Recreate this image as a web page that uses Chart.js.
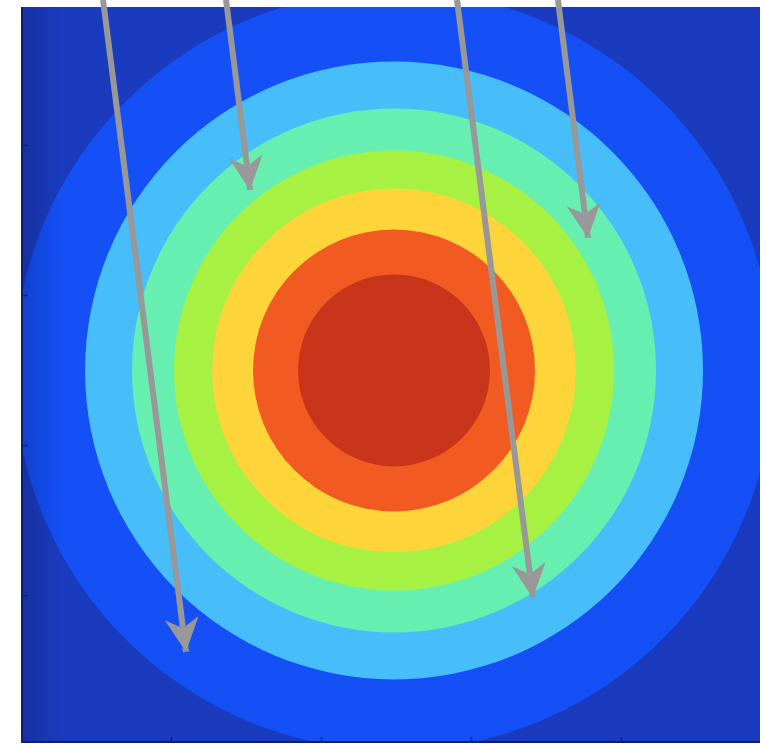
<!DOCTYPE html>
<html>
<head>
<meta charset="utf-8">
<style>
  html, body { margin: 0; padding: 0; background: #ffffff; }
  #wrap { width: 766px; height: 744px; }
</style>
<script src="https://cdn.jsdelivr.net/npm/chart.js@4/dist/chart.umd.min.js"></script>
</head>
<body>
<div id="wrap"><canvas id="chart" width="766" height="744"></canvas></div>
<script>
// Domain of the field
const xRange = [0, 4.927];
const yRange = [0.013, 4.92];
const xTicks = [1, 2, 3, 4];
const yTicks = [1, 2, 3, 4];

// Radial field: centre and contour-level radii (outermost first)
const centerX = 2.487;
const centerY = 2.497;
const contourRadii = [2.533, 2.06, 1.747, 1.467, 1.213, 0.94, 0.64];

// Gradient vectors (start -> tip)
const arrowStartX = [0.547, 1.367, 2.907, 3.58];
const arrowStartY = [4.967, 4.967, 4.967, 4.967];
const arrowEndX   = [1.10, 1.527, 3.413, 3.78];
const arrowEndY   = [0.62, 3.70, 0.98, 3.38];

// Styling
const backgroundLevelColor = '#1a3bbd';
const contourColors = ['#1550f6', '#47bdfa', '#66efb0', '#a7f142', '#fdd53a', '#f15b22', '#c9351b'];
const arrowColor = '#989898';
const HEAD_LEN = 34, HEAD_HALF = 17, HEAD_NOTCH = 24;

function headGeometry(x0, y0, x1, y1) {
  const dx = x1 - x0, dy = y1 - y0;
  const len = Math.hypot(dx, dy);
  const ux = dx / len, uy = dy / len;
  const nx = -uy, ny = ux;
  return {
    tip: [x1, y1],
    left: [x1 - HEAD_LEN * ux + HEAD_HALF * nx, y1 - HEAD_LEN * uy + HEAD_HALF * ny],
    notch: [x1 - HEAD_NOTCH * ux, y1 - HEAD_NOTCH * uy],
    right: [x1 - HEAD_LEN * ux - HEAD_HALF * nx, y1 - HEAD_LEN * uy - HEAD_HALF * ny]
  };
}

function headPath(ctx, g) {
  ctx.moveTo(g.tip[0], g.tip[1]);
  ctx.lineTo(g.left[0], g.left[1]);
  ctx.lineTo(g.notch[0], g.notch[1]);
  ctx.lineTo(g.right[0], g.right[1]);
  ctx.closePath();
}

function arrowPixels(chart, i) {
  const meta = chart.getDatasetMeta(i);
  const a = meta.data[0], b = meta.data[1];
  return headGeometry(a.x, a.y, b.x, b.y);
}

// Filled contour levels drawn behind the vectors
const contourPlugin = {
  id: 'contourFill',
  beforeDatasetsDraw(chart) {
    const { ctx, chartArea: ca, scales: { x, y } } = chart;
    ctx.save();
    ctx.beginPath();
    ctx.rect(ca.left, ca.top, ca.right - ca.left, ca.bottom - ca.top);
    ctx.clip();
    ctx.fillStyle = backgroundLevelColor;
    ctx.fillRect(ca.left, ca.top, ca.right - ca.left, ca.bottom - ca.top);
    const cx = x.getPixelForValue(centerX);
    const cy = y.getPixelForValue(centerY);
    contourRadii.forEach((r, i) => {
      const rx = x.getPixelForValue(centerX + r) - cx;
      const ry = cy - y.getPixelForValue(centerY + r);
      ctx.beginPath();
      ctx.ellipse(cx, cy, rx, ry, 0, 0, Math.PI * 2);
      ctx.fillStyle = contourColors[i];
      ctx.fill();
    });
    // slight shading along the left edge
    const g = ctx.createLinearGradient(ca.left, 0, ca.left + 40, 0);
    g.addColorStop(0, 'rgba(0,10,60,0.22)');
    g.addColorStop(1, 'rgba(0,10,60,0)');
    ctx.fillStyle = g;
    ctx.fillRect(ca.left, ca.top, 40, ca.bottom - ca.top);
    ctx.restore();
  },
  afterDatasetsDraw(chart) {
    const { ctx, chartArea: ca, scales: { x, y } } = chart;
    ctx.save();
    // axis lines (left and bottom)
    ctx.strokeStyle = '#0e1f70';
    ctx.lineWidth = 2;
    ctx.beginPath();
    ctx.moveTo(ca.left + 1, ca.top);
    ctx.lineTo(ca.left + 1, ca.bottom);
    ctx.moveTo(ca.left, ca.bottom - 1);
    ctx.lineTo(ca.right, ca.bottom - 1);
    ctx.stroke();
    // inward tick marks
    ctx.strokeStyle = 'rgba(14,31,112,0.85)';
    ctx.lineWidth = 1.5;
    ctx.beginPath();
    xTicks.forEach(v => {
      const px = Math.round(x.getPixelForValue(v)) + 0.5;
      ctx.moveTo(px, ca.bottom);
      ctx.lineTo(px, ca.bottom - 6);
    });
    yTicks.forEach(v => {
      const py = Math.round(y.getPixelForValue(v)) + 0.5;
      ctx.moveTo(ca.left, py);
      ctx.lineTo(ca.left + 7, py);
    });
    ctx.stroke();
    ctx.restore();
  }
};

// Arrowheads: keep the shaft out of the head, then fill the head
const arrowHeadPlugin = {
  id: 'arrowHeads',
  beforeDatasetDraw(chart, args) {
    const { ctx, width, height } = chart;
    const g = arrowPixels(chart, args.index);
    ctx.save();
    ctx.beginPath();
    ctx.rect(0, 0, width, height);
    headPath(ctx, g);
    ctx.clip('evenodd');
  },
  afterDatasetDraw(chart, args) {
    const { ctx } = chart;
    ctx.restore();
    const g = arrowPixels(chart, args.index);
    ctx.save();
    ctx.beginPath();
    headPath(ctx, g);
    ctx.fillStyle = arrowColor;
    ctx.fill();
    ctx.restore();
  }
};

const datasets = arrowStartX.map((sx, i) => ({
  data: [
    { x: sx, y: arrowStartY[i] },
    { x: arrowEndX[i], y: arrowEndY[i] }
  ],
  showLine: true,
  borderColor: arrowColor,
  borderWidth: 6,
  borderCapStyle: 'butt',
  pointRadius: 0,
  pointHoverRadius: 0,
  clip: false
}));

new Chart(document.getElementById('chart'), {
  type: 'scatter',
  data: { datasets },
  options: {
    responsive: false,
    animation: false,
    devicePixelRatio: 1,
    layout: { padding: { left: 21, top: 7, right: 6, bottom: 1 } },
    plugins: { legend: { display: false }, tooltip: { enabled: false } },
    events: [],
    scales: {
      x: { type: 'linear', min: xRange[0], max: xRange[1], display: false },
      y: { type: 'linear', min: yRange[0], max: yRange[1], display: false }
    }
  },
  plugins: [contourPlugin, arrowHeadPlugin]
});
</script>
</body>
</html>
